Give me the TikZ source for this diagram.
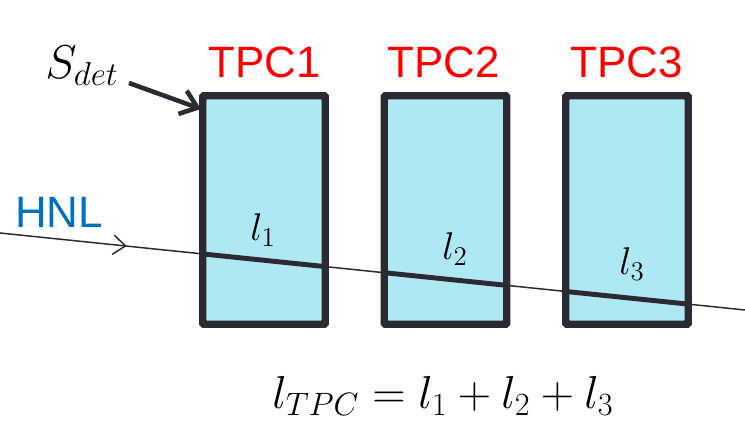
\RequirePackage{fix-cm}
\documentclass[tikz,border=0pt]{standalone}
\usepackage{amsmath}
\usepackage{fontspec}
\newfontfamily\arialfont{Liberation Sans}
\usetikzlibrary{arrows.meta}
\usetikzlibrary{decorations.markings}
\definecolor{boxfill}{HTML}{AEE8F2}
\definecolor{boxline}{HTML}{2B2A33}
\definecolor{tpcred}{HTML}{FF0000}
\definecolor{hnlblue}{HTML}{0070C0}
\newcommand{\boxlinewidth}{2.8pt}
\tikzset{tpcbox/.style={rectangle, draw=boxline, fill=boxfill, line width=\boxlinewidth, rounded corners=1pt, inner sep=0pt, minimum width=2.4cm, minimum height=4.52cm}}
\tikzset{tpclabel/.style={text=tpcred, font=\arialfont\fontsize{25}{30}\selectfont, inner sep=0pt}}
\tikzset{seglabel/.style={font=\fontsize{22}{26}\selectfont, inner sep=0pt}}

\begin{document}
\begin{tikzpicture}[x=0.02cm, y=-0.02cm]
\useasboundingbox (0,0) rectangle (745,421);

\node[tpcbox] (tpc1) at (264,210) {};
\node[tpcbox] (tpc2) at (445.5,210) {};
\node[tpcbox] (tpc3) at (627,210) {};

\node[tpclabel] (n1) at (265,62) {TPC1};
\node[tpclabel] (n2) at (444,62) {TPC2};
\node[tpclabel] (n3) at (627,62) {TPC3};

% neutrino track
\coordinate (in) at (0,233);
\coordinate (out) at (745,310);
\draw[boxline, line width=0.85pt, decoration={markings, mark=at position 0.17 with {\arrow{Straight Barb[length=7pt,width=11pt]}}}, postaction={decorate}] (in) -- (out);

% track inside the chambers
\foreach \t in {tpc1,tpc2,tpc3} {
  \begin{scope}
    \clip (\t.south west) rectangle (\t.north east);
    \draw[boxline, line width=2.8pt] (in) -- (out);
  \end{scope}
  \draw[boxline, line width=\boxlinewidth, rounded corners=1pt] (\t.south west) rectangle (\t.north east);
}

\node[text=hnlblue, font=\arialfont\fontsize{25}{30}\selectfont, inner sep=0pt] (hnl) at (59,212) {HNL};

\node[seglabel] (l1) at (263,230) {$l_1$};
\node[seglabel] (l2) at (455,249) {$l_2$};
\node[seglabel] (l3) at (632,264) {$l_3$};

\node[font=\fontsize{27}{32}\selectfont, inner sep=0pt] (sdet) at (82,66) {$S_{det}$};
\coordinate (stail) at (129,83);
\coordinate (stip) at (201,109);
\draw[boxline, line width=2.6pt, -{Straight Barb[length=9pt,width=14pt]}] (stail) -- (stip);

\node[font=\fontsize{26.3}{31}\selectfont, inner sep=0pt] (sum) at (443,396) {$l_{TPC}=l_1+l_2+l_3$};
\end{tikzpicture}
\end{document}
